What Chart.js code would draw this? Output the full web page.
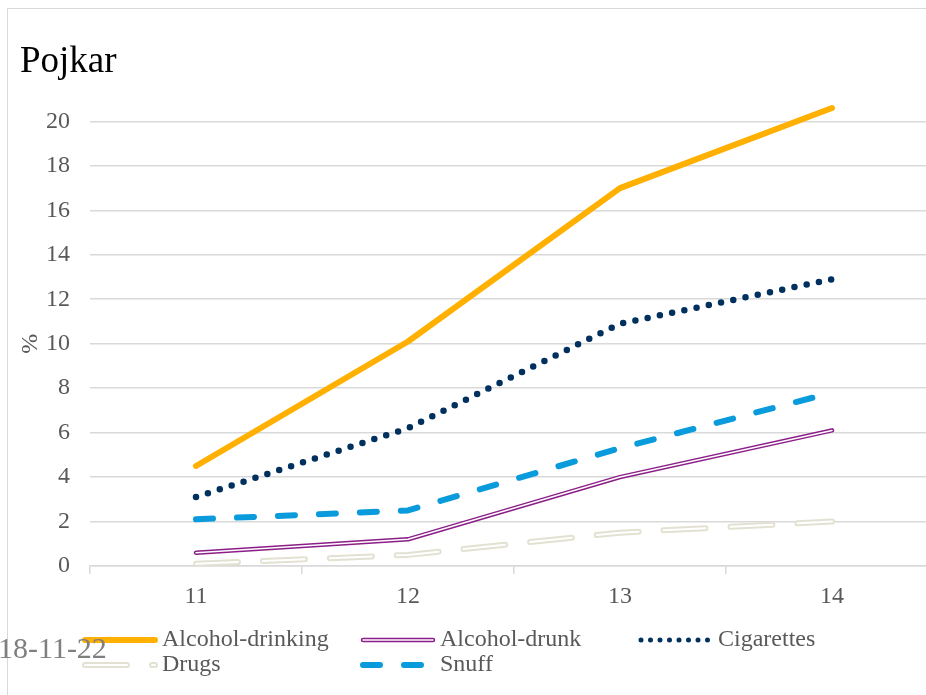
<!DOCTYPE html>
<html lang="sv">
<head>
<meta charset="UTF-8">
<title>Pojkar</title>
<style>
  html, body { margin: 0; padding: 0; background: #fff; overflow: hidden; }
  #wrap { position: relative; width: 926px; height: 695px; overflow: hidden; }
  #frame { position: absolute; left: 7px; top: 8px; width: 940px; height: 700px;
           border-top: 1.5px solid #d9d9d9; border-left: 1.5px solid #d9d9d9; }
  #chart { position: absolute; left: 0; top: 0; }
  #date { position: absolute; left: -2px; top: 631px; font: 30px "Liberation Serif", serif; color: #7f7f7f; }
</style>
</head>
<body>
<div id="wrap">
  <div id="frame"></div>
  <canvas id="chart" width="940" height="695"></canvas>
  <div id="date">18-11-22</div>
</div>

<script src="https://cdn.jsdelivr.net/npm/chart.js@4"></script>
<script>
  // data (percent, by age)
  const ages = ['11', '12', '13', '14'];
  const alcoholDrinking = [4.5, 10.1, 17.0, 20.6];
  const alcoholDrunk = [0.6, 1.2, 4.0, 6.1];
  const cigarettes = [3.1, 6.2, 10.9, 12.9];
  const drugs = [0.1, 0.5, 1.5, 2.0];
  const snuff = [2.1, 2.5, 5.3, 7.8];

  const serif = '"Liberation Serif", "Times New Roman", serif';
  const grey = '#595959';
  const gridColor = '#d9d9d9';

  // line looks, shared by the plot and the legend samples
  const styles = {
    drinking: { color: '#FFB000', width: 6, dash: [] },
    drunk: { color: '#8B1E88', width: 4.5, dash: [], inner: { color: '#fff', width: 1.5 } },
    cigarettes: { color: '#00305E', width: 6.5, dash: [0, 12.5], legendDash: [0, 9.5] },
    drugs: { color: '#E3E1D2', width: 6, dash: [42, 25], inner: { color: '#fff', width: 2 } },
    snuff: { color: '#0A9BDC', width: 6, dash: [17, 24] }
  };

  function line(label, data, st, order) {
    return {
      label: label,
      data: data,
      borderColor: st.color,
      borderWidth: st.width,
      borderDash: st.dash,
      borderCapStyle: 'round',
      borderJoinStyle: 'round',
      pointRadius: 0,
      fill: false,
      tension: 0,
      clip: false,
      order: order
    };
  }

  // white core for the double ("compound") lines
  function innerLine(data, st) {
    return line('', data, { color: st.inner.color, width: st.inner.width, dash: st.dash }, 0);
  }

  const datasets = [
    line('Alcohol-drinking', alcoholDrinking, styles.drinking, 1),
    line('Alcohol-drunk', alcoholDrunk, styles.drunk, 2),
    innerLine(alcoholDrunk, styles.drunk),
    line('Cigarettes', cigarettes, styles.cigarettes, 1),
    line('Drugs', drugs, styles.drugs, 2),
    innerLine(drugs, styles.drugs),
    line('Snuff', snuff, styles.snuff, 1)
  ];

  // legend laid out in three columns like the original
  const legendItems = [
    { label: 'Alcohol-drinking', st: styles.drinking, x: 85, y: 640 },
    { label: 'Alcohol-drunk', st: styles.drunk, x: 363, y: 640 },
    { label: 'Cigarettes', st: styles.cigarettes, x: 641, y: 640 },
    { label: 'Drugs', st: styles.drugs, x: 85, y: 665 },
    { label: 'Snuff', st: styles.snuff, x: 363, y: 665 }
  ];

  function strokeSample(ctx, x1, x2, y, color, width, dash) {
    ctx.save();
    ctx.beginPath();
    ctx.strokeStyle = color;
    ctx.lineWidth = width;
    ctx.lineCap = 'round';
    ctx.setLineDash(dash);
    ctx.moveTo(x1, y);
    ctx.lineTo(x2, y);
    ctx.stroke();
    ctx.restore();
  }

  const gridLegend = {
    id: 'gridLegend',
    afterDraw(chart) {
      const ctx = chart.ctx;
      legendItems.forEach(item => {
        const st = item.st;
        const x2 = item.x + 70;
        strokeSample(ctx, item.x, x2, item.y, st.color, st.legendDash ? 5 : st.width, st.legendDash || st.dash);
        if (st.inner) strokeSample(ctx, item.x, x2, item.y, st.inner.color, st.inner.width, st.dash);
        ctx.save();
        ctx.fillStyle = grey;
        ctx.font = '24px ' + serif;
        ctx.textBaseline = 'middle';
        ctx.fillText(item.label, x2 + 7, item.y);
        ctx.restore();
      });
    }
  };

  new Chart(document.getElementById('chart'), {
    type: 'line',
    data: { labels: ages, datasets: datasets },
    options: {
      responsive: false,
      animation: false,
      devicePixelRatio: 1,
      layout: { padding: { left: 20, right: 2, top: 0, bottom: 79 } },
      plugins: {
        legend: { display: false },
        tooltip: { enabled: false },
        title: {
          display: true,
          text: 'Pojkar',
          align: 'start',
          color: '#000',
          font: { family: serif, size: 37, weight: 'normal' },
          padding: { top: 40, bottom: 37 }
        }
      },
      scales: {
        x: {
          offset: true,
          grid: { offset: true, drawOnChartArea: false, drawTicks: true, tickLength: 8, color: gridColor, lineWidth: 1.5 },
          border: { color: gridColor, width: 1.5 },
          ticks: { color: grey, font: { family: serif, size: 24 }, padding: 8 },
          afterFit: s => { s.height = 50; }
        },
        y: {
          min: 0,
          max: 20,
          ticks: { stepSize: 2, color: grey, font: { family: serif, size: 24 }, padding: 20 },
          grid: { color: gridColor, lineWidth: 1.5, drawTicks: false },
          border: { display: false },
          title: { display: true, text: '%', color: grey, font: { family: serif, size: 24 }, padding: { top: -4, bottom: 0 } },
          afterFit: s => { s.width = 70; }
        }
      }
    },
    plugins: [gridLegend]
  });
</script>
</body>
</html>
